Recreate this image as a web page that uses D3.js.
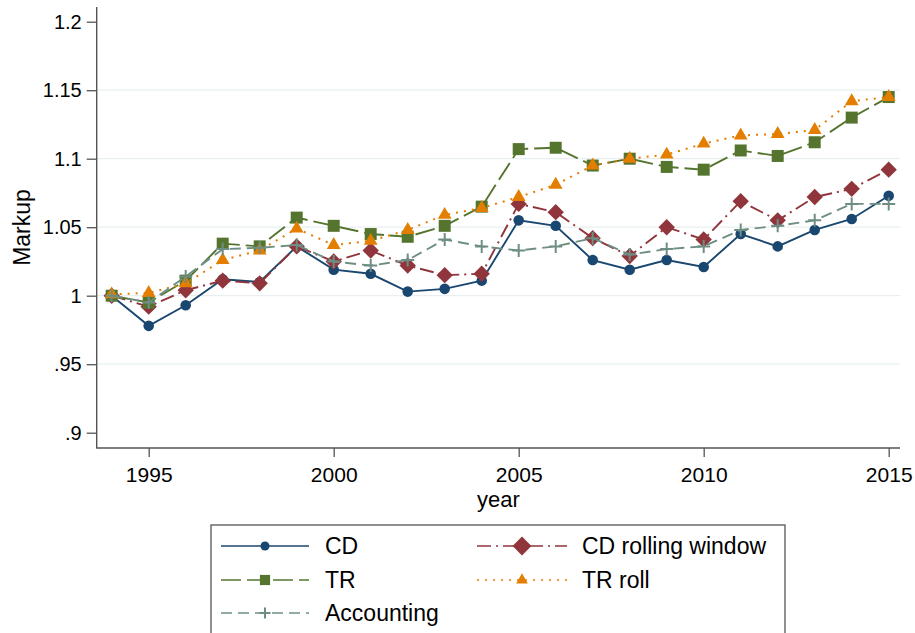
<!DOCTYPE html>
<html>
<head>
<meta charset="utf-8">
<script src="https://cdn.jsdelivr.net/npm/d3@7"></script>
<style>
    body { margin: 0; background: #fff; }
    svg text { font-family: "Liberation Sans", Arial, sans-serif; fill: #000; }
</style>
</head>
<body>
<div id="chart"></div>
<script>
// data
var years = [1994, 1995, 1996, 1997, 1998, 1999, 2000, 2001, 2002, 2003, 2004,
    2005, 2006, 2007, 2008, 2009, 2010, 2011, 2012, 2013, 2014, 2015];

var cd = [1.000, 0.978, 0.993, 1.012, 1.010, 1.036, 1.019, 1.016, 1.003, 1.005, 1.011,
    1.055, 1.051, 1.026, 1.019, 1.026, 1.021, 1.045, 1.036, 1.048, 1.056, 1.073];
var cdRolling = [1.000, 0.992, 1.004, 1.011, 1.009, 1.036, 1.025, 1.033, 1.022, 1.015, 1.016,
    1.067, 1.061, 1.042, 1.029, 1.050, 1.041, 1.069, 1.055, 1.072, 1.078, 1.092];
var tr = [1.000, 0.995, 1.011, 1.038, 1.036, 1.057, 1.051, 1.045, 1.043, 1.051, 1.065,
    1.107, 1.108, 1.095, 1.100, 1.094, 1.092, 1.106, 1.102, 1.112, 1.130, 1.145];
var trRoll = [1.001, 1.002, 1.009, 1.026, 1.033, 1.049, 1.037, 1.040, 1.048, 1.059, 1.064,
    1.072, 1.081, 1.095, 1.100, 1.103, 1.111, 1.117, 1.118, 1.121, 1.142, 1.145];
var accounting = [1.000, 0.995, 1.014, 1.034, 1.035, 1.037, 1.025, 1.022, 1.026, 1.041, 1.036,
    1.033, 1.036, 1.042, 1.030, 1.034, 1.036, 1.048, 1.051, 1.055, 1.067, 1.067];

var yTicks = [0.9, 0.95, 1, 1.05, 1.1, 1.15, 1.2];
var yTickLabels = [".9", ".95", "1", "1.05", "1.1", "1.15", "1.2"];
var yGrid = [0.95, 1, 1.05, 1.1, 1.15];
var xTicks = [1995, 2000, 2005, 2010, 2015];

var seriesNames = ["CD", "CD rolling window", "TR", "TR roll", "Accounting"];
var seriesValues = [cd, cdRolling, tr, trRoll, accounting];

// style per series (stata s2color look)
var styles = [
    { color: "#1a476f", dash: null, symbol: "circle" },
    { color: "#90353b", dash: "14,5,2,5", symbol: "diamond" },
    { color: "#55752f", dash: "20,6", symbol: "square" },
    { color: "#e37e00", dash: "2,6", symbol: "triangle" },
    { color: "#6e8e84", dash: "11,6", symbol: "plus" }
];

var width = 915, height = 633;
var plot = { left: 96.7, right: 900, top: 7, bottom: 448 };

var svg = d3.select("#chart").append("svg")
    .attr("width", width)
    .attr("height", height);

var x = d3.scaleLinear().domain([1994, 2015]).range([111.7, 888.7]);
var y = d3.scaleLinear().domain([0.9, 1.2]).range([432.7, 21.7]);

// gridlines
svg.append("g")
    .selectAll("line")
    .data(yGrid)
    .enter()
    .append("line")
    .attr("x1", plot.left)
    .attr("x2", plot.right)
    .attr("y1", function (d) { return y(d); })
    .attr("y2", function (d) { return y(d); })
    .style("stroke", "#e9eff1")
    .style("stroke-width", 1.2);

// y axis
var yAxis = d3.axisLeft(y)
    .tickValues(yTicks)
    .tickFormat(function (d, i) { return yTickLabels[i]; })
    .tickSizeInner(10)
    .tickSizeOuter(0)
    .tickPadding(5);

var yG = svg.append("g")
    .attr("transform", "translate(" + plot.left + ",0)")
    .call(yAxis);
yG.select(".domain").remove();
yG.selectAll("line").style("stroke", "#555").style("stroke-width", 1.3);
yG.selectAll("text").style("font-size", "20px").style("fill", "#000")
    .attr("font-family", null);

// x axis
var xAxis = d3.axisBottom(x)
    .tickValues(xTicks)
    .tickFormat(d3.format("d"))
    .tickSizeInner(9)
    .tickSizeOuter(0)
    .tickPadding(10);

var xG = svg.append("g")
    .attr("transform", "translate(0," + plot.bottom + ")")
    .call(xAxis);
xG.select(".domain").remove();
xG.selectAll("line").style("stroke", "#555").style("stroke-width", 1.3);
xG.selectAll("text").style("font-size", "21px").style("fill", "#000")
    .attr("font-family", null);

// axis lines
svg.append("line")
    .attr("x1", plot.left).attr("x2", plot.left)
    .attr("y1", plot.top).attr("y2", plot.bottom + 0.6)
    .style("stroke", "#555").style("stroke-width", 1.4);
svg.append("line")
    .attr("x1", plot.left).attr("x2", plot.right)
    .attr("y1", plot.bottom).attr("y2", plot.bottom)
    .style("stroke", "#555").style("stroke-width", 1.4);

// axis titles
svg.append("text")
    .attr("transform", "translate(30," + ((plot.top + plot.bottom) / 2) + ") rotate(-90)")
    .style("text-anchor", "middle")
    .style("font-size", "23px")
    .text("Markup");

svg.append("text")
    .attr("x", (plot.left + plot.right) / 2)
    .attr("y", 507)
    .style("text-anchor", "middle")
    .style("font-size", "22px")
    .text("year");

// marker drawing helper
function addMarker(sel, symbol, color, scale) {
    var k = scale || 1;
    if (symbol === "plus") {
        sel.append("path")
            .attr("d", "M" + (-6.5 * k) + ",0H" + (6.5 * k) + "M0," + (-6.5 * k) + "V" + (6.5 * k))
            .style("stroke", color)
            .style("stroke-width", 2)
            .style("fill", "none");
        return;
    }
    var path;
    if (symbol === "circle") {
        path = d3.symbol().type(d3.symbolCircle).size(88 * k * k)();
    } else if (symbol === "square") {
        path = d3.symbol().type(d3.symbolSquare).size(144 * k * k)();
    } else if (symbol === "diamond") {
        path = d3.symbol().type(d3.symbolSquare).size(134 * k * k)();
    } else {
        path = d3.symbol().type(d3.symbolTriangle).size(82 * k * k)();
    }
    var p = sel.append("path")
        .attr("d", path)
        .style("fill", color)
        .style("stroke", "none");
    if (symbol === "diamond") {
        p.attr("transform", "rotate(45)");
    }
}

var line = d3.line()
    .x(function (d) { return x(d.year); })
    .y(function (d) { return y(d.value); });

// draw series in stata order
for (var s = 0; s < seriesNames.length; s++) {
    var pts = [];
    for (var i = 0; i < years.length; i++) {
        pts.push({ year: years[i], value: seriesValues[s][i] });
    }
    var st = styles[s];
    var g = svg.append("g").attr("class", "series");

    g.append("path")
        .datum(pts)
        .attr("d", line)
        .style("fill", "none")
        .style("stroke", st.color)
        .style("stroke-width", st.symbol === "triangle" ? 2 : 1.9)
        .style("stroke-dasharray", st.dash);

    g.selectAll(".pt")
        .data(pts)
        .enter()
        .append("g")
        .attr("class", "pt")
        .attr("transform", function (d) { return "translate(" + x(d.year) + "," + y(d.value) + ")"; })
        .each(function () { addMarker(d3.select(this), st.symbol, st.color); });
}

// legend
var legend = svg.append("g");
legend.append("rect")
    .attr("x", 211)
    .attr("y", 525)
    .attr("width", 574)
    .attr("height", 140)
    .style("fill", "#fff")
    .style("stroke", "#555")
    .style("stroke-width", 1.3);

var legendCols = [
    { x1: 221, x2: 309, label: 325 },
    { x1: 477, x2: 567, label: 582 }
];
var legendRows = [546, 580, 613];

for (var j = 0; j < seriesNames.length; j++) {
    var col = legendCols[j % 2];
    var ry = legendRows[Math.floor(j / 2)];
    var ls = styles[j];
    var lg = legend.append("g");
    lg.append("line")
        .attr("x1", col.x1).attr("x2", col.x2)
        .attr("y1", ry).attr("y2", ry)
        .style("stroke", ls.color)
        .style("stroke-width", 1.6)
        .style("stroke-dasharray", ls.dash);
    var mg = lg.append("g")
        .attr("transform", "translate(" + ((col.x1 + col.x2) / 2) + "," + ry + ")");
    addMarker(mg, ls.symbol, ls.color, ls.symbol === "diamond" ? 1.15 : 0.85);
    lg.append("text")
        .attr("x", col.label)
        .attr("y", ry + 8)
        .style("font-size", "23px")
        .text(seriesNames[j]);
}
</script>
</body>
</html>
